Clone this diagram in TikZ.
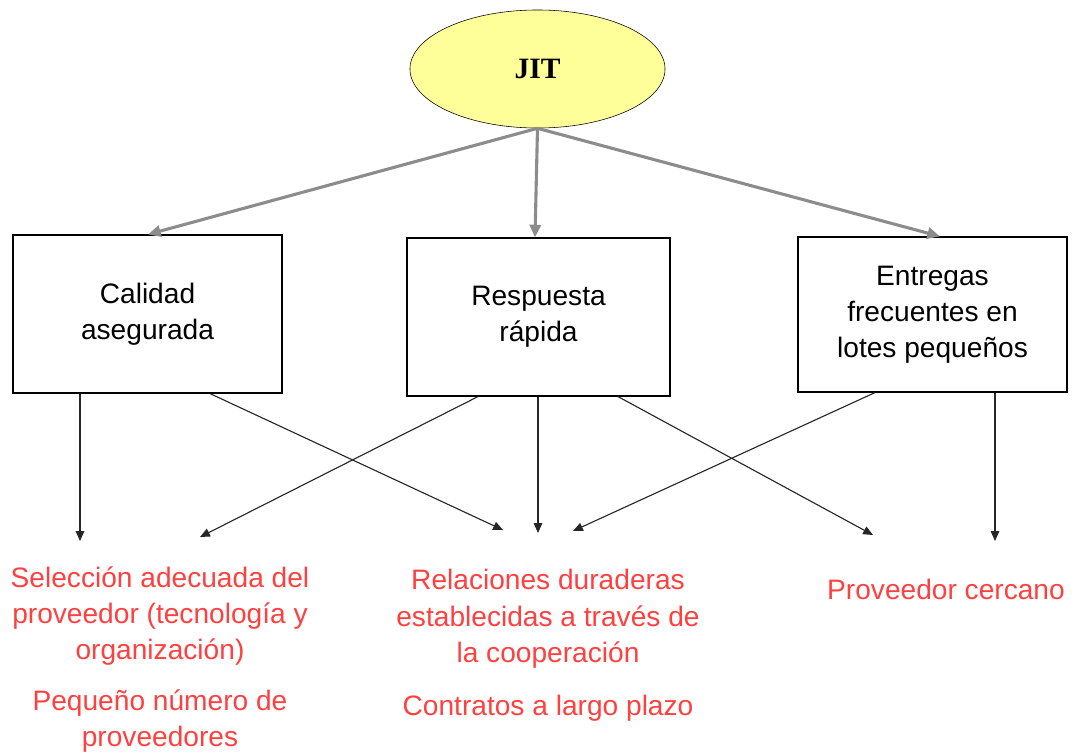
\documentclass[tikz,border=0pt]{standalone}
\usepackage{fontspec}
\setmainfont{Liberation Sans}
\newfontfamily\jitfont{Liberation Serif}
\usetikzlibrary{arrows.meta}
\usetikzlibrary{shapes.geometric}
\usetikzlibrary{calc}
\definecolor{jityellow}{HTML}{FFFF99}
\definecolor{reqred}{HTML}{FF4040}
\definecolor{linkgray}{HTML}{8C8C8C}
\tikzset{
box/.style = {draw, line width=0.8pt, minimum width=#1, minimum height=3.95cm,
              inner sep=0pt, align=center, font=\fontsize{20}{25.5}\selectfont},
box/.default = 6.725cm, % box width
req/.style = {text=reqred, align=center, inner sep=0pt, font=\fontsize{20}{25.8}\selectfont},
up/.style = {draw=linkgray, line width=2.2pt, -{Triangle[length=9pt,width=8pt]}},
down/.style = {draw=black!85, line width=0.8pt, -{Triangle[length=7pt,width=6pt]}}
}
\newcommand{\tipat}[2]{\coordinate (#1) at (#2);}
\begin{document}
\begin{tikzpicture}[x=0.025cm, y=-0.025cm]
        \useasboundingbox (0,0) rectangle (1077,753);
        \node[ellipse, draw, fill=jityellow, minimum width=6.375cm, minimum height=2.95cm, inner sep=0pt,
              font=\jitfont\bfseries\fontsize{21}{24}\selectfont] (jit) at (537.5,69) {\raisebox{-2pt}{JIT}};
        \node[box] (cal) at (147.5,314) {Calidad\\asegurada};
        \node[box=6.575cm] (resp) at (538.5,317) {Respuesta\\rápida};
        \node[box, minimum height=3.875cm] (ent) at (932.5,314.5) {\raisebox{-3pt}{\begin{tabular}{@{}c@{}}Entregas\\frecuentes en\\lotes pequeños\end{tabular}}};
        \draw[up] (jit.south) -- (cal.north -| 148,0);
        \draw[up] (jit.south) -- (resp.north -| 535,0);
        \draw[up] (jit.south) -- (ent.north -| 940,0);
        % free ends of the lower arrows
        \tipat{t1}{80,541};
        \tipat{t2}{200,537};
        \tipat{t3}{503,530};
        \tipat{t4}{538,533};
        \tipat{t5}{573,531};
        \tipat{t6}{873,535};
        \tipat{t7}{995,541};
        \draw[down] (cal.south -| t1) -- (t1);
        \draw[down] (cal.south -| 210,0) -- (t3);
        \draw[down] (resp.south -| 478,0) -- (t2);
        \draw[down] (resp.south -| t4) -- (t4);
        \draw[down] (resp.south -| 618,0) -- (t6);
        \draw[down] (ent.south -| 875,0) -- (t5);
        \draw[down] (ent.south -| t7) -- (t7);
        \node[req] (sel) at (160,616) {Selección adecuada del\\proveedor (tecnología y\\organización)};
        \node[req] (num) at (160,721) {Pequeño número de\\proveedores};
        \node[req] (rel) at (548,619) {Relaciones duraderas\\establecidas a través de\\la cooperación};
        \node[req] (con) at (548,708) {Contratos a largo plazo};
        \node[req] (cer) at (946,589) {Proveedor cercano};
\end{tikzpicture}
\end{document}
